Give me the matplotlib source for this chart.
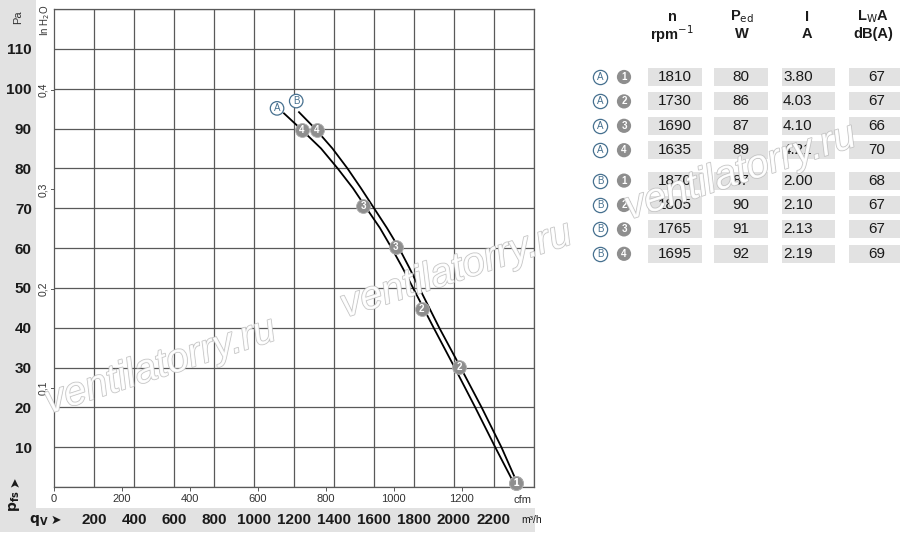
"""Fan curve chart with operating-point table (pressure vs air flow), rebuilt with matplotlib."""
import numpy as np
import matplotlib
matplotlib.use("Agg")
import matplotlib.pyplot as plt
from matplotlib.patches import Rectangle
import matplotlib.patheffects as pe
import matplotlib.transforms as mtrans

plt.rcParams["font.family"] = ["Liberation Sans Narrow", "Liberation Sans", "DejaVu Sans"]

# curve A / curve B  (air flow m3/h, static pressure Pa)
qA = [1150, 1238, 1335, 1418, 1495, 1562, 1630, 1688, 1743, 1795, 1898, 2003, 2106, 2206, 2300]
pA = [93.8, 89.7, 85.0, 80.0, 75.0, 70.0, 65.0, 60.0, 55.0, 50.0, 40.0, 30.0, 20.0, 10.0, 0.9]
qB = [1225, 1305, 1392, 1467, 1535, 1600, 1665, 1725, 1777, 1826, 1926, 2033, 2138, 2237, 2318]
pB = [94.1, 90.0, 85.0, 80.0, 75.0, 70.0, 65.0, 60.0, 55.0, 50.0, 40.0, 30.0, 20.0, 10.0, 0.8]
# operating points 1..4
opA_q = [2308, 1838, 1547, 1238]; opA_p = [0.9, 44.7, 70.5, 89.7]
opB_q = [2308, 2025, 1708, 1313]; opB_p = [0.9, 30.1, 60.2, 89.7]

pa_ticks = [0, 10, 20, 30, 40, 50, 60, 70, 80, 90, 100, 110, 120]
inh2o_ticks = [0.1, 0.2, 0.3, 0.4]
m3h_ticks = [200, 400, 600, 800, 1000, 1200, 1400, 1600, 1800, 2000, 2200]
cfm_ticks = [0, 200, 400, 600, 800, 1000, 1200]

# table
row_set = ["A", "A", "A", "A", "B", "B", "B", "B"]
row_pt = [1, 2, 3, 4, 1, 2, 3, 4]
n_rpm = [1810, 1730, 1690, 1635, 1870, 1805, 1765, 1695]
p_ed = [80, 86, 87, 89, 87, 90, 91, 92]
i_amp = [3.80, 4.03, 4.10, 4.21, 2.00, 2.10, 2.13, 2.19]
lwa = [67, 67, 66, 70, 68, 67, 67, 69]

GRID = "#595959"; BAND = "#e2e2e2"; PT = "#8e8e8e"; BLUE = "#46708f"; TXT = "#1a1a1a"

fig = plt.figure(figsize=(9, 5.4), dpi=100)

# background bands + table live in a pixel-coordinate overlay behind the chart
bg = fig.add_axes([0, 0, 1, 1], zorder=-1)
bg.set_xlim(0, 900); bg.set_ylim(540, 0); bg.axis("off")
bg.add_patch(Rectangle((0, 0), 36, 508, color=BAND, lw=0))
bg.add_patch(Rectangle((0, 508), 535, 24, color=BAND, lw=0))

ax = fig.add_axes([54 / 900, 53 / 540, 480 / 900, 478 / 540])
ax.set_xlim(0, 2400); ax.set_ylim(0, 120)
ax.set_yticks(pa_ticks)
ax.set_yticklabels([str(v) if 0 < v < 120 else "" for v in pa_ticks], fontsize=11, weight="bold", color=TXT)
ax.tick_params(axis="y", length=0, pad=16)
ax.set_xticks(np.arange(0, 2401, 200), minor=True); ax.tick_params(axis="x", which="minor", length=0)
ax.set_xticks([c * 1.699 for c in cfm_ticks]); ax.set_xticklabels([str(c) for c in cfm_ticks], fontsize=8, color="#333")
ax.tick_params(axis="x", length=3, width=0.7, color=GRID, pad=2)
ax.grid(axis="x", which="minor", color=GRID, lw=0.9); ax.grid(axis="y", which="major", color=GRID, lw=0.9)
for s in ax.spines.values():
    s.set_color(GRID); s.set_linewidth(0.9)

ax.plot(qA, pA, color="black", lw=1.3, zorder=3)
ax.plot(qB, pB, color="black", lw=1.3, zorder=3)
for qs, ps in ((opA_q, opA_p), (opB_q, opB_p)):
    ax.plot(qs, ps, "o", ms=10, color=PT, mec="#b0b0b0", mew=0.6, zorder=4, clip_on=False)
    for k, (q, p) in enumerate(zip(qs, ps)):
        ax.text(q, p, str(k + 1), color="white", fontsize=7, weight="bold", ha="center", va="center", zorder=5, clip_on=False)
circ = dict(boxstyle="circle,pad=0.18", fc="white", ec=BLUE, lw=0.9)
ax.annotate("A", (qA[0], pA[0]), xytext=(-5, 3.6), textcoords="offset points", fontsize=7, color=BLUE,
            ha="center", va="center", bbox=circ)
ax.annotate("B", (qB[0], pB[0]), xytext=(-2, 8), textcoords="offset points", fontsize=7, color=BLUE,
            ha="center", va="center", bbox=circ)

# secondary scales
tr_y = mtrans.blended_transform_factory(ax.transAxes, ax.transData)
for v in inh2o_ticks:
    ax.text(-0.023, v * 249.09, f"{v:.1f}".replace(".", ","), transform=tr_y, rotation=90, fontsize=7.5,
            color="#333", ha="center", va="center")
    ax.plot([-0.006, 0], [v * 249.09] * 2, transform=tr_y, color=GRID, lw=0.7, clip_on=False)
tr_x = mtrans.blended_transform_factory(ax.transData, ax.transAxes)
for v in m3h_ticks:
    ax.text(v, -0.069, str(v), transform=tr_x, fontsize=11, weight="bold", color=TXT, ha="center", va="center")
ax.text(2390, -0.069, "m³/h", transform=tr_x, fontsize=7.5, color=TXT, ha="center", va="center")
ax.text(0.977, -0.027, "cfm", transform=ax.transAxes, fontsize=8, color="#333", ha="center", va="center")

fig.text(18 / 900, 1 - 17 / 540, "Pa", rotation=90, fontsize=8, color="#333", ha="center", va="center")
fig.text(45 / 900, 1 - 20 / 540, "In H$_2$O", rotation=90, fontsize=7, color="#333", ha="center", va="center")
fig.text(15 / 900, 1 - 501 / 540, r"$\mathbf{p}_{\mathbf{fs}}$", rotation=90, fontsize=10, color=TXT,
         ha="center", va="center")
fig.text(15 / 900, 1 - 482 / 540, "➤", rotation=90, fontsize=9, family="DejaVu Sans", color=TXT, ha="center", va="center")
fig.text(39 / 900, 1 - 520 / 540, r"$\mathbf{q}_{\mathbf{V}}$", fontsize=10, color=TXT, ha="center", va="center")
fig.text(56 / 900, 1 - 520 / 540, "➤", fontsize=9, family="DejaVu Sans", color=TXT, ha="center", va="center")

# table
heads = [("n", "rpm$^{-1}$"), ("P$_\\mathrm{ed}$", "W"), ("I", "A"), ("L$_\\mathrm{W}$A", "dB(A)")]
col_c = [672, 742, 807, 873]
for (h1, h2), xc in zip(heads, col_c):
    bg.text(xc, 17, h1, fontsize=10.5, weight="bold", color=TXT, ha="center", va="center")
    bg.text(xc, 34, h2, fontsize=10.5, weight="bold", color=TXT, ha="center", va="center")
boxes = [(648, 702), (714, 768), (782, 835), (849, 905)]
for i in range(len(n_rpm)):
    y = 77 + i * 24.4 + (6 if i >= 4 else 0)
    for x0, x1 in boxes:
        bg.add_patch(Rectangle((x0, y - 9), x1 - x0, 18, color=BAND, lw=0))
    bg.text(675, y, str(n_rpm[i]), fontsize=11, color=TXT, ha="center", va="center")
    bg.text(741, y, str(p_ed[i]), fontsize=11, color=TXT, ha="center", va="center")
    bg.text(783, y, f"{i_amp[i]:.2f}", fontsize=11, color=TXT, ha="left", va="center")
    bg.text(877, y, str(lwa[i]), fontsize=11, color=TXT, ha="center", va="center")
    bg.scatter([600], [y], s=105, fc="white", ec=BLUE, lw=0.9)
    bg.text(600, y, row_set[i], fontsize=7, color=BLUE, ha="center", va="center")
    bg.scatter([624], [y], s=105, fc=PT, ec="none")
    bg.text(624, y, str(row_pt[i]), fontsize=7, weight="bold", color="white", ha="center", va="center")

# watermark
for xc, yc in [(160, 366), (456, 270), (740, 172)]:
    fig.text(xc / 900, 1 - yc / 540, "ventilatorry.ru", fontsize=29, style="italic", color="white", alpha=0.9,
             rotation=18, ha="center", va="center", zorder=10,
             path_effects=[pe.Stroke(linewidth=1.1, foreground="#bdbdbd"), pe.Normal()])

fig.savefig("out.png", dpi=100)
